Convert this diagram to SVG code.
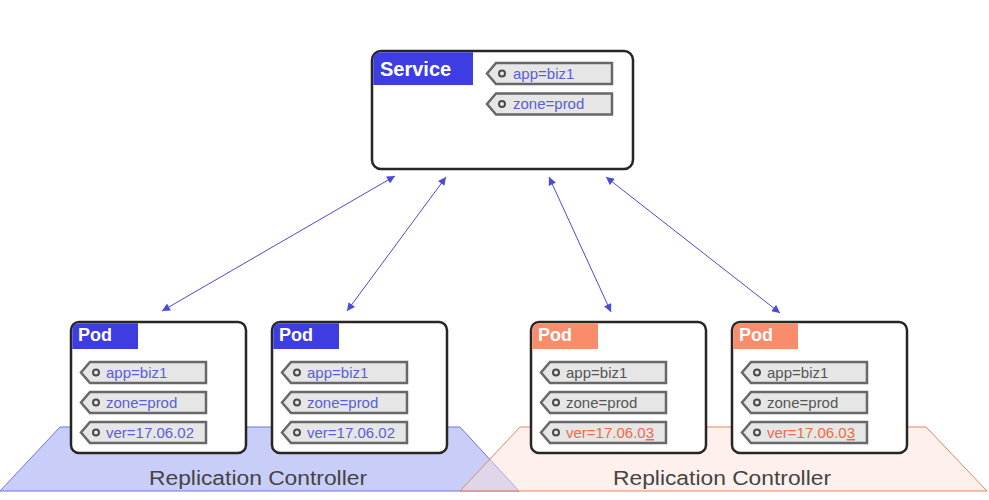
<svg xmlns="http://www.w3.org/2000/svg" xmlns:xlink="http://www.w3.org/1999/xlink" width="989" height="500" viewBox="0 0 989 500">
  <style>
    .box { fill: #ffffff; stroke: #262626; stroke-width: 2.5; }
    .hdr-blue { fill: #3d3de2; }
    .hdr-orange { fill: #f98c6b; }
    .hdr-text { font-family: "Liberation Sans", Arial, sans-serif; font-weight: bold; fill: #ffffff; }
    .tag { fill: #e6e6e6; stroke: #686868; stroke-width: 2.5; stroke-linejoin: miter; }
    .hole { fill: #e6e6e6; stroke: #4a4a4a; stroke-width: 2; }
    .lbl { font-family: "Liberation Sans", Arial, sans-serif; font-size: 15px; }
    .blue { fill: #5a5ed6; }
    .grey { fill: #555555; }
    .orange { fill: #f26a45; }
    .rc { font-family: "Liberation Sans", Arial, sans-serif; font-size: 20px; fill: #444444; }
    .conn { stroke: #4b4bd6; stroke-width: 1; fill: none; marker-start: url(#ah); marker-end: url(#ah); }
  </style>
  <defs>
    <marker id="ah" viewBox="0 0 10 10" refX="10" refY="5" markerWidth="9" markerHeight="8" markerUnits="userSpaceOnUse" orient="auto-start-reverse">
      <path d="M0,0 L10,5 L0,10 Z" fill="#4b4bd6"/>
    </marker>
    <g id="tag">
      <path class="tag" d="M9,0 H125 V21 H9 L0,10.5 Z"/>
      <circle class="hole" cx="15" cy="10.5" r="3"/>
    </g>
  </defs>

  <rect width="989" height="500" fill="#ffffff"/>

  <g id="rc-left">
    <polygon points="60,427 460,427 519,491 0,491" fill="#c9cef8" stroke="#6f75dc" stroke-width="1"/>
  </g>
  <g id="rc-right">
    <polygon points="520,427 926,427 987,491 460,491" fill="#fde0d6" fill-opacity="0.45" stroke="#e8845f" stroke-width="1"/>
  </g>
  <text class="rc" x="258" y="485" text-anchor="middle" textLength="218" lengthAdjust="spacingAndGlyphs">Replication Controller</text>
  <text class="rc" x="722" y="485" text-anchor="middle" textLength="218" lengthAdjust="spacingAndGlyphs">Replication Controller</text>

  <g id="connectors">
    <line class="conn" x1="395" y1="176" x2="162" y2="311"/>
    <line class="conn" x1="446" y1="177" x2="347" y2="311"/>
    <line class="conn" x1="549" y1="177" x2="611" y2="312"/>
    <line class="conn" x1="606" y1="177" x2="780" y2="313"/>
  </g>

  <g id="service">
    <rect class="box" x="372" y="51" width="261" height="118" rx="9"/>
    <path class="hdr-blue" d="M373.3,59 Q373.3,52.3 381,52.3 H473 V85 H373.3 Z"/>
    <text class="hdr-text" x="380" y="76" font-size="20">Service</text>
    <use xlink:href="#tag" x="487" y="63"/>
    <text class="lbl blue" x="513" y="79">app=biz1</text>
    <use xlink:href="#tag" x="487" y="93.5"/>
    <text class="lbl blue" x="513" y="109">zone=prod</text>
  </g>

  <g id="pod1">
    <rect class="box" x="71" y="322" width="175" height="131" rx="8"/>
    <path class="hdr-blue" d="M72.3,330 Q72.3,323.3 80,323.3 H138 V349 H72.3 Z"/>
    <text class="hdr-text" x="78" y="341" font-size="18">Pod</text>
    <use xlink:href="#tag" x="81" y="362"/>
    <text class="lbl blue" x="106" y="378">app=biz1</text>
    <use xlink:href="#tag" x="81" y="392"/>
    <text class="lbl blue" x="106" y="408">zone=prod</text>
    <use xlink:href="#tag" x="81" y="422"/>
    <text class="lbl blue" x="106" y="438">ver=17.06.02</text>
  </g>

  <g id="pod2">
    <rect class="box" x="272" y="322" width="175" height="131" rx="8"/>
    <path class="hdr-blue" d="M273.3,330 Q273.3,323.3 281,323.3 H339 V349 H273.3 Z"/>
    <text class="hdr-text" x="279" y="341" font-size="18">Pod</text>
    <use xlink:href="#tag" x="282" y="362"/>
    <text class="lbl blue" x="307" y="378">app=biz1</text>
    <use xlink:href="#tag" x="282" y="392"/>
    <text class="lbl blue" x="307" y="408">zone=prod</text>
    <use xlink:href="#tag" x="282" y="422"/>
    <text class="lbl blue" x="307" y="438">ver=17.06.02</text>
  </g>

  <g id="pod3">
    <rect class="box" x="531" y="322" width="175" height="131" rx="8"/>
    <path class="hdr-orange" d="M532.3,330 Q532.3,323.3 540,323.3 H598 V349 H532.3 Z"/>
    <text class="hdr-text" x="538" y="341" font-size="18">Pod</text>
    <use xlink:href="#tag" x="541" y="362"/>
    <text class="lbl grey" x="566" y="378">app=biz1</text>
    <use xlink:href="#tag" x="541" y="392"/>
    <text class="lbl grey" x="566" y="408">zone=prod</text>
    <use xlink:href="#tag" x="541" y="422"/>
    <text class="lbl orange" x="566" y="438">ver=17.06.0<tspan text-decoration="underline">3</tspan></text>
  </g>

  <g id="pod4">
    <rect class="box" x="732" y="322" width="175" height="131" rx="8"/>
    <path class="hdr-orange" d="M733.3,330 Q733.3,323.3 741,323.3 H798 V349 H733.3 Z"/>
    <text class="hdr-text" x="739" y="341" font-size="18">Pod</text>
    <use xlink:href="#tag" x="742" y="362"/>
    <text class="lbl grey" x="767" y="378">app=biz1</text>
    <use xlink:href="#tag" x="742" y="392"/>
    <text class="lbl grey" x="767" y="408">zone=prod</text>
    <use xlink:href="#tag" x="742" y="422"/>
    <text class="lbl orange" x="767" y="438">ver=17.06.0<tspan text-decoration="underline">3</tspan></text>
  </g>
</svg>
